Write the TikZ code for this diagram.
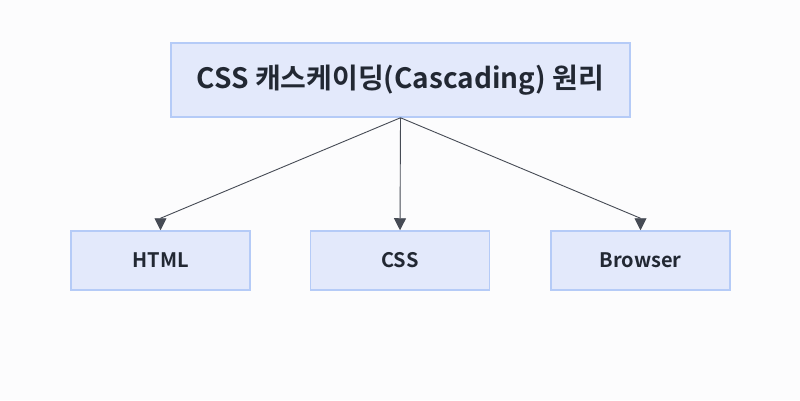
\documentclass[tikz,border=0pt]{standalone}
\usepackage{fontspec}
\setmainfont{Noto Sans CJK KR}[BoldFont={Noto Sans CJK KR Bold}]
\usepackage{tikz}
\usetikzlibrary{arrows.meta}
\usepackage{xcolor}
\definecolor{boxfill}{HTML}{E3E9FB}
\definecolor{boxline}{HTML}{B5CBF7}
\definecolor{textcol}{HTML}{222833}
\definecolor{arrowcol}{HTML}{464B55}
\definecolor{bgcol}{HTML}{FCFCFD}

\tikzset{
  box/.style={draw=boxline, fill=boxfill, line width=1.5pt, text=textcol, font=\bfseries, inner sep=0pt},
  link/.style={draw=arrowcol, line width=0.9pt, -{Triangle[width=12pt,length=12pt]}}
}

\begin{document}
\begin{tikzpicture}[x=1pt, y=-1pt]

% canvas
\fill[bgcol] (0,0) rectangle (800,400);
\useasboundingbox (0,0) rectangle (800,400);

% title box
\node[box, minimum width=459pt, minimum height=74pt, font=\bfseries\fontsize{28}{32}\selectfont] (title) at (400.5,80) {CSS 캐스케이딩(Cascading) 원리};

% the three sources
\node[box, minimum width=179pt, minimum height=59pt, font=\bfseries\fontsize{20}{24}\selectfont] (html)    at (160.5,260.5) {HTML};
\node[box, minimum width=179pt, minimum height=59pt, font=\bfseries\fontsize{20}{24}\selectfont] (css)     at (400.0,260.5) {CSS};
\node[box, minimum width=179pt, minimum height=59pt, font=\bfseries\fontsize{20}{24}\selectfont] (browser) at (640.5,260.5) {Browser};

% arrows (heads point straight down)
\draw[link] (title.south) -- ([yshift=12pt]html.north) -- (html.north);
\draw[link] (title.south) -- (css.north);
\draw[link] (title.south) -- ([yshift=12pt]browser.north) -- (browser.north);

\end{tikzpicture}
\end{document}
